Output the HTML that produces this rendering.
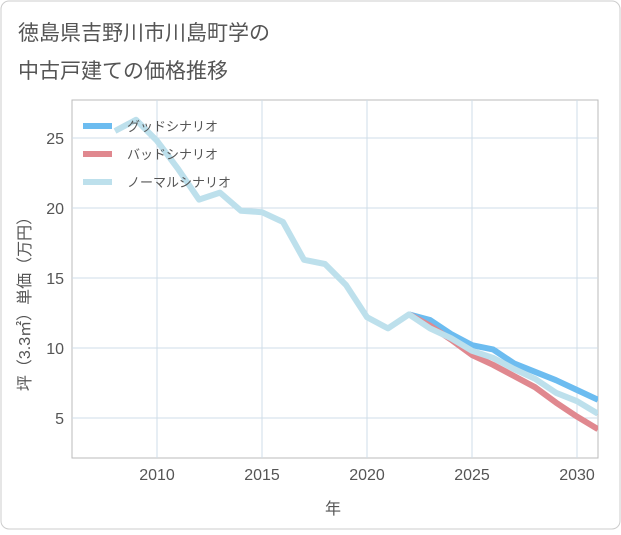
<!DOCTYPE html>
<html><head><meta charset="utf-8"><style>
body{margin:0;background:#fff}
#wrap{width:621px;height:530px;position:relative;font-family:"Liberation Sans","Noto Sans CJK JP",sans-serif}
</style></head><body>
<div id="wrap">
<svg id="chart" width="621" height="530">
<rect x="1" y="1" width="619" height="528" rx="8" fill="#fff" stroke="#ccc"/>
<text x="18" y="40" font-size="21" fill="#555">徳島県吉野川市川島町学の</text>
<text x="18" y="78" font-size="21" fill="#555">中古戸建ての価格推移</text>
<text transform="translate(30,300) rotate(-90)" text-anchor="middle" font-size="16" fill="#555">坪（3.3㎡）単価（万円）</text>
<text x="333" y="514" text-anchor="middle" font-size="16" fill="#555">年</text>
<g id="grid"></g><g id="series"></g><g id="legend"></g>
</svg>
</div>
<script>
const years=[2008,2009,2010,2011,2012,2013,2014,2015,2016,2017,2018,2019,2020,2021,2022,2023,2024,2025,2026,2027,2028,2029,2030,2031];
const normal=[25.5,26.3,24.8,22.8,20.6,21.1,19.8,19.7,19.0,16.3,16.0,14.5,12.2,11.4,12.4,11.4,10.7,9.8,9.3,8.5,7.8,6.8,6.2,5.3];
const fYears=[2022,2023,2024,2025,2026,2027,2028,2029,2030,2031];
const good=[12.4,12.0,11.0,10.2,9.9,8.9,8.3,7.7,7.0,6.3];
const bad=[12.4,11.6,10.6,9.5,8.8,8.0,7.2,6.1,5.1,4.2];
const xTicks=[2010,2015,2020,2025,2030];
const yTicks=[5,10,15,20,25];
const L=72,R=598,T=100,B=458;
const x=v=>157+(v-2010)*21;
const y=v=>348-(v-10)*14;
const NS='http://www.w3.org/2000/svg';
function mk(tag,attrs,parent){const e=document.createElementNS(NS,tag);for(const k in attrs)e.setAttribute(k,attrs[k]);parent.appendChild(e);return e;}
const grid=document.getElementById('grid');
mk('rect',{x:L,y:T,width:R-L,height:B-T,fill:'none',stroke:'#bbb'},grid);
xTicks.forEach(t=>{
 const l=mk('line',{x1:x(t),x2:x(t),y1:T,y2:B,stroke:'#cfdde8'},grid);
 
 
 const tx=mk('text',{x:x(t),y:B+22,'text-anchor':'middle','font-size':16,fill:'#555'},grid);
 tx.textContent=t;
 
 
});
yTicks.forEach(t=>{
 const l=mk('line',{x1:L,x2:R,y1:y(t),y2:y(t),stroke:'#cfdde8'},grid);
 
 
 const tx=mk('text',{x:L-8,y:y(t)+6,'text-anchor':'end','font-size':16,fill:'#555'},grid);
 tx.textContent=t;
 
 
});
const ser=document.getElementById('series');
const defs=mk('clipPath',{id:'clip'},ser);mk('rect',{x:L,y:T,width:R-L,height:B-T},defs);
function line(xs,vs,color,name){
 const p=mk('polyline',{points:xs.map((v,i)=>x(v)+','+y(vs[i])).join(' '),fill:'none',stroke:color,'stroke-width':6,'stroke-linejoin':'round','clip-path':'url(#clip)'},ser);
 
 
}
line(fYears,good,'#6cbcf0','good-scenario-line');
line(fYears,bad,'#e0888f','bad-scenario-line');
line(years,normal,'#bde0ec','normal-scenario-line');
const lg=document.getElementById('legend');
[['グッドシナリオ','#6cbcf0'],['バッドシナリオ','#e0888f'],['ノーマルシナリオ','#bde0ec']].forEach((d,i)=>{
 const yy=126+i*28;
 const g=mk('g',{},lg);
 
 
 mk('line',{x1:83,x2:112,y1:yy,y2:yy,stroke:d[1],'stroke-width':6},g);
 const t=mk('text',{x:127,y:yy+5,'font-size':13,fill:'#555'},g);t.textContent=d[0];
});
</script>
</body></html>
